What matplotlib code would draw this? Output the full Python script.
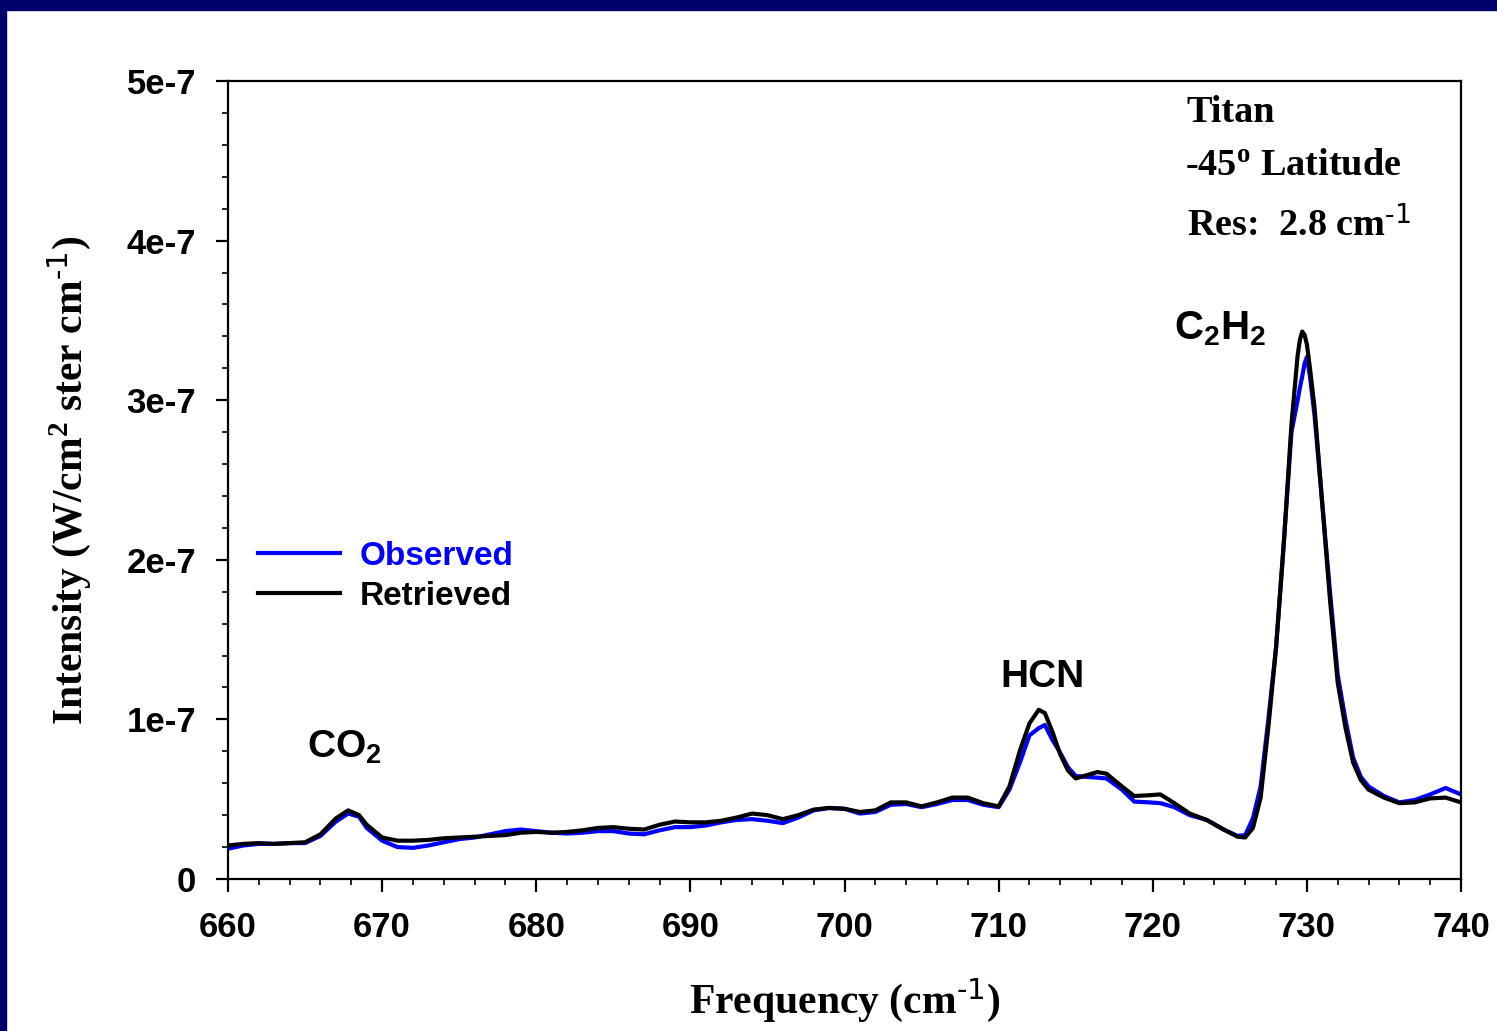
import numpy as np
import matplotlib
matplotlib.use("Agg")
from matplotlib import pyplot as plt
from matplotlib.patches import Rectangle
from matplotlib.ticker import MultipleLocator

plt.rcParams['mathtext.default'] = 'regular'

# spectrum samples (frequency in cm^-1, intensity in units of 1e-7 W/cm2/ster/cm-1)
freq = [660, 661, 662, 663, 664, 665, 666, 667, 667.8, 668.5, 669, 670, 671, 672, 673, 674,
        675, 676, 677, 678, 679, 680, 681, 682, 683, 684, 685, 686, 687, 688, 689, 690,
        691, 692, 693, 694, 695, 696, 697, 698, 699, 700, 701, 702, 703, 704, 705, 706,
        707, 708, 709, 710, 710.7, 711.4, 712, 712.6, 713, 713.5, 714, 714.5, 715, 715.7,
        716.4, 717, 718, 718.8, 719.8, 720.5, 721.4, 722.4, 723.5, 724.6, 725.5, 726,
        726.5, 727, 727.5, 728, 728.5, 729, 729.4, 729.55, 729.7, 729.85, 730, 730.2, 730.5,
        731, 731.5, 732, 732.5, 733, 733.5, 734, 735, 736, 737, 738, 739, 740]

observed = [0.19, 0.21, 0.22, 0.22, 0.225, 0.225, 0.27, 0.36, 0.41, 0.39, 0.32, 0.24, 0.20, 0.195, 0.21, 0.23,
            0.25, 0.26, 0.28, 0.30, 0.31, 0.30, 0.29, 0.285, 0.29, 0.30, 0.30, 0.285, 0.28, 0.305, 0.325, 0.325,
            0.335, 0.355, 0.37, 0.375, 0.365, 0.35, 0.385, 0.43, 0.445, 0.44, 0.41, 0.42, 0.465, 0.47, 0.45, 0.47,
            0.495, 0.495, 0.465, 0.45, 0.56, 0.735, 0.90, 0.945, 0.965, 0.87, 0.79, 0.70, 0.645, 0.64,
            0.635, 0.63, 0.56, 0.485, 0.48, 0.475, 0.45, 0.40, 0.37, 0.31, 0.27, 0.275,
            0.38, 0.58, 1.0, 1.45, 2.1, 2.8, 3.0, 3.08, 3.15, 3.23, 3.27, 3.15, 2.9,
            2.35, 1.8, 1.28, 1.0, 0.76, 0.64, 0.58, 0.52, 0.48, 0.495, 0.53, 0.57, 0.53]

retrieved = [0.21, 0.22, 0.225, 0.22, 0.225, 0.23, 0.28, 0.38, 0.43, 0.40, 0.34, 0.26, 0.24, 0.24, 0.245, 0.255,
             0.26, 0.265, 0.27, 0.275, 0.29, 0.295, 0.29, 0.295, 0.305, 0.32, 0.325, 0.315, 0.31, 0.34, 0.36, 0.355,
             0.355, 0.365, 0.385, 0.41, 0.40, 0.375, 0.40, 0.435, 0.445, 0.44, 0.42, 0.43, 0.48, 0.48, 0.455, 0.48,
             0.51, 0.51, 0.475, 0.455, 0.58, 0.81, 0.975, 1.06, 1.04, 0.92, 0.78, 0.68, 0.63, 0.65,
             0.67, 0.66, 0.58, 0.52, 0.525, 0.53, 0.475, 0.41, 0.37, 0.31, 0.265, 0.26,
             0.32, 0.51, 0.95, 1.45, 2.1, 2.85, 3.28, 3.38, 3.43, 3.41, 3.35, 3.2, 2.95,
             2.35, 1.75, 1.23, 0.95, 0.73, 0.62, 0.56, 0.51, 0.475, 0.48, 0.505, 0.51, 0.48]

xticks = [660, 670, 680, 690, 700, 710, 720, 730, 740]
yticks = [0, 1, 2, 3, 4, 5]
ytick_labels = ['0', '1e-7', '2e-7', '3e-7', '4e-7', '5e-7']

scale = 1e-7
sans = 'Liberation Sans'
serif = 'Liberation Serif'

fig = plt.figure(figsize=(14.97, 10.31), dpi=100)
fig.patch.set_facecolor('white')
# navy frame on the top and left edges
fig.patches.append(Rectangle((0, 1 - 10 / 1031), 1, 10 / 1031, transform=fig.transFigure,
                             color='#00006a', zorder=0))
fig.patches.append(Rectangle((0, 0), 6 / 1497, 1, transform=fig.transFigure,
                             color='#00006a', zorder=0))

ax = fig.add_axes([228 / 1497, 152 / 1031, 1233 / 1497, 798 / 1031])

obs = np.array(observed) * scale
ret = np.array(retrieved) * scale
ax.plot(freq, obs, color='#0000ff', linewidth=3, label='Observed', solid_joinstyle='round')
ax.plot(freq, ret, color='black', linewidth=3, label='Retrieved', solid_joinstyle='round')

ax.set_xlim(660, 740)
ax.set_ylim(0, 5 * scale)
ax.set_xticks(xticks)
ax.set_yticks([v * scale for v in yticks])
ax.set_yticklabels(ytick_labels)
ax.xaxis.set_minor_locator(MultipleLocator(2))
ax.yaxis.set_minor_locator(MultipleLocator(0.2 * scale))

for lab in ax.get_xticklabels() + ax.get_yticklabels():
    lab.set_fontfamily(sans)
    lab.set_fontweight('bold')
    lab.set_fontsize(25)

ax.tick_params(axis='both', which='major', direction='out', length=9, width=1.6,
               top=False, right=False, pad=14)
ax.tick_params(axis='both', which='minor', direction='out', length=4.5, width=1.2,
               top=False, right=False)
for sp in ax.spines.values():
    sp.set_linewidth(1.6)

ax.set_xlabel(r'Frequency (cm$^{\text{-1}}$)', fontfamily=serif, fontweight='bold',
              fontsize=30, labelpad=24)
ax.set_ylabel(r'Intensity (W/cm$^{2}$ ster cm$^{\text{-1}}$)', fontfamily=serif, fontweight='bold',
              fontsize=30, labelpad=24)

# band labels
ax.text(665.1, 0.76 * scale, r'CO$_2$', fontfamily=sans, fontweight='bold', fontsize=28)
ax.text(710.1, 1.20 * scale, 'HCN', fontfamily=sans, fontweight='bold', fontsize=28)
ax.text(721.4, 3.38 * scale, r'C$_2$H$_2$', fontfamily=sans, fontweight='bold', fontsize=29)

# observation info
ax.text(722.2, 4.74 * scale, 'Titan', fontfamily=serif, fontweight='bold', fontsize=27.5)
ax.text(722.1, 4.41 * scale, r'-45$^{o}$ Latitude', fontfamily=serif, fontweight='bold', fontsize=27.5)
ax.text(722.2, 4.03 * scale, r'Res:  2.8 cm$^{\text{-1}}$', fontfamily=serif, fontweight='bold', fontsize=27.5)

leg = ax.legend(loc='upper left', bbox_to_anchor=(0.024, 0.424), frameon=False, borderpad=0,
                borderaxespad=0, handlelength=2.46, handletextpad=0.6, labelspacing=0.27,
                labelcolor='linecolor', prop={'family': sans, 'weight': 'bold', 'size': 24})

fig.savefig('out.png', dpi=100, facecolor=fig.get_facecolor())
